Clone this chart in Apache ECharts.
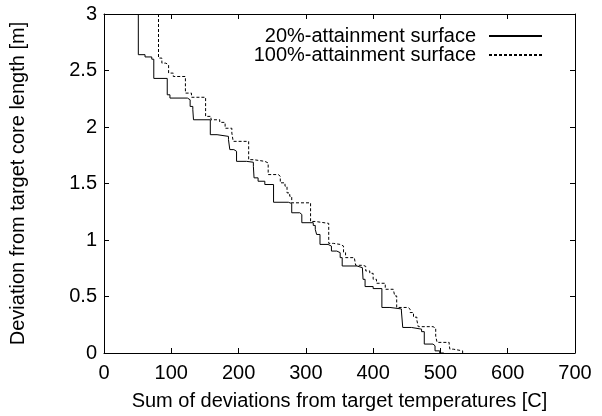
<!DOCTYPE html>
<html>
<head>
<meta charset="utf-8">
<script src="https://cdn.jsdelivr.net/npm/echarts@6/dist/echarts.min.js"></script>
<style>
  html, body { margin: 0; padding: 0; background: #fff; }
  #draw { width: 602px; height: 416px; }
</style>
</head>
<body>
<div id="draw"></div>
<script>
// attainment surfaces, corners of the staircase
var solidX = [51, 51, 61, 71, 74, 94, 98, 124, 128, 132, 133, 158, 168, 185, 187, 193, 197, 212, 222, 223,
	229, 239, 252, 274, 279, 291, 294, 311, 314, 316, 321, 333, 338, 346, 351, 354, 376, 384, 385, 388,
	400, 413, 425, 442, 444, 457, 472, 476, 489, 492, 499, 505];
var solidY = [3, 2.64, 2.62, 2.60, 2.43, 2.285, 2.256, 2.241, 2.182, 2.153, 2.064, 1.932, 1.917, 1.888, 1.80, 1.785, 1.696, 1.688, 1.652, 1.55,
	1.52, 1.491, 1.334, 1.323, 1.241, 1.226, 1.153, 1.129, 1.094, 1.049, 0.961, 0.946, 0.902, 0.888, 0.844, 0.77, 0.755, 0.74, 0.652, 0.588,
	0.57, 0.403, 0.39, 0.372, 0.226, 0.211, 0.189, 0.079, 0.064, 0.019, 0, 0];

var dashedX = [81, 81, 86, 92, 96, 103, 121, 130, 151, 159, 172, 180, 190, 192, 215, 222, 239, 244, 259, 262,
	269, 272, 276, 279, 307, 314, 334, 341, 351, 356, 359, 372, 374, 385, 389, 395, 400, 405, 418, 430,
	432, 435, 452, 455, 460, 465, 467, 489, 493, 495, 513, 514, 519, 533];
var dashedY = [3, 2.61, 2.565, 2.55, 2.477, 2.447, 2.30, 2.263, 2.094, 2.064, 2.041, 1.989, 1.947, 1.873, 1.711, 1.696, 1.682, 1.579, 1.564, 1.506,
	1.476, 1.417, 1.387, 1.329, 1.164, 1.147, 0.97, 0.961, 0.946, 0.888, 0.844, 0.829, 0.776, 0.767, 0.726, 0.705, 0.652, 0.617, 0.564, 0.549,
	0.505, 0.403, 0.387, 0.358, 0.317, 0.29, 0.233, 0.22, 0.149, 0.094, 0.074, 0.034, 0.019, 0];

var names = ['20%-attainment surface', '100%-attainment surface'];
var xTitle = 'Sum of deviations from target temperatures [C]';
var yTitle = 'Deviation from target core length [m]';

var pairs = function(xs, ys) {
	return xs.map(function(x, i) {
		return [x, ys[i]];
	});
};

var font = "'Liberation Sans', Arial, sans-serif";
var fs = 20;
var myChart = echarts.init(document.getElementById('draw'));

var axisBase = function(show) {
	return {
		axisLine : { show : true, onZero : false, lineStyle : { color : '#000', width : 1 } },
		axisTick : { show : true, inside : true, length : 5, lineStyle : { color : '#000' } },
		splitLine : { show : false },
		axisLabel : { show : show, color : '#000', fontSize : fs, fontFamily : font }
	};
};

var xMain = Object.assign(axisBase(true), {
	type : 'value', position : 'bottom', min : 0, max : 700, interval : 100,
	name : xTitle, nameLocation : 'middle', nameGap : 38,
	nameTextStyle : { color : '#000', fontSize : fs, fontFamily : font }
});
xMain.axisLabel.margin = 10;
var xTop = Object.assign(axisBase(false), {
	type : 'value', position : 'top', min : 0, max : 700, interval : 100
});
var yMain = Object.assign(axisBase(true), {
	type : 'value', position : 'left', min : 0, max : 3, interval : 0.5,
	name : yTitle, nameLocation : 'middle', nameGap : 76,
	nameTextStyle : { color : '#000', fontSize : fs, fontFamily : font }
});
yMain.axisLabel.margin = 7;
var yRight = Object.assign(axisBase(false), {
	type : 'value', position : 'right', min : 0, max : 3, interval : 0.5
});

var legendCommon = {
	orient : 'vertical', align : 'right', right : 54,
	itemWidth : 53, itemHeight : 10, itemGap : 0,
	selectedMode : false,
	itemStyle : { opacity : 0 },
	textStyle : { color : '#000', fontSize : fs, fontFamily : font, padding : [ 0, 8, 0, 0 ] }
};

option = {
	animation : false,
	grid : { left : 104, right : 27, top : 14, bottom : 62 },
	xAxis : [ xMain, xTop ],
	yAxis : [ yMain, yRight ],
	legend : [
		Object.assign({ data : [ names[0] ], top : 21 }, legendCommon),
		Object.assign({ data : [ names[1] ], top : 40 }, legendCommon)
	],
	series : [ {
		name : names[0],
		type : 'line',
		step : 'end',
		symbol : 'none',
		data : pairs(solidX, solidY),
		lineStyle : { color : '#000', width : 1 },
		itemStyle : { color : '#000' }
	}, {
		name : names[1],
		type : 'line',
		step : 'end',
		symbol : 'none',
		data : pairs(dashedX, dashedY),
		lineStyle : { color : '#000', width : 1, type : [ 3, 2 ] },
		itemStyle : { color : '#000' }
	} ]
};
myChart.setOption(option);
</script>
</body>
</html>
